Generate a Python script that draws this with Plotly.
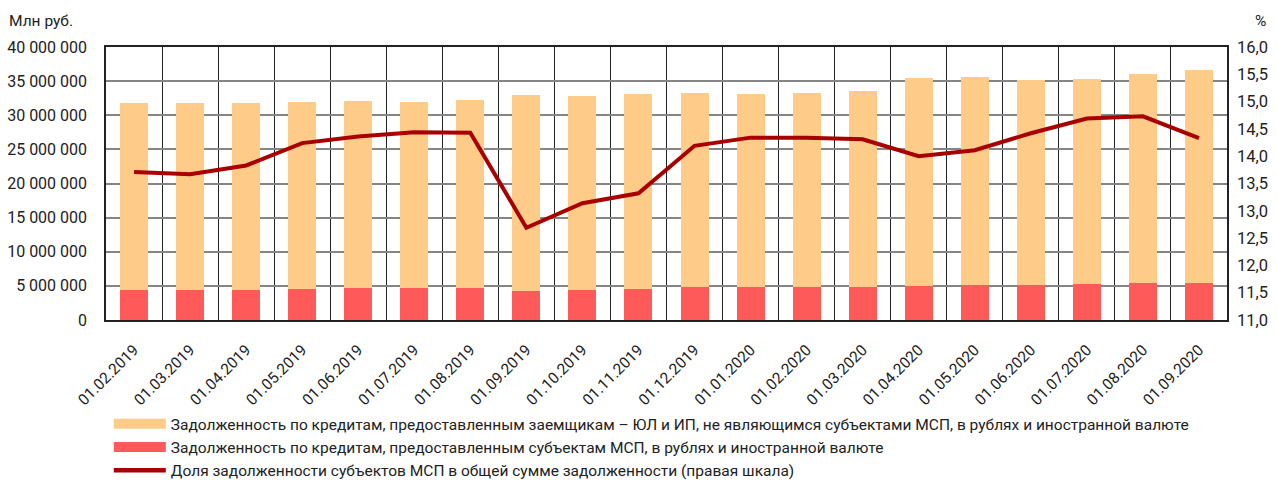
import plotly.graph_objects as go

dates = ["01.02.2019", "01.03.2019", "01.04.2019", "01.05.2019", "01.06.2019", "01.07.2019",
         "01.08.2019", "01.09.2019", "01.10.2019", "01.11.2019", "01.12.2019", "01.01.2020",
         "01.02.2020", "01.03.2020", "01.04.2020", "01.05.2020", "01.06.2020", "01.07.2020",
         "01.08.2020", "01.09.2020"]

# Loans to SMEs (red), mln rub
msp = [4400000, 4400000, 4400000, 4600000, 4700000, 4700000, 4700000, 4300000, 4450000, 4500000,
       4800000, 4900000, 4900000, 4900000, 5030000, 5100000, 5100000, 5300000, 5350000, 5350000]
# Total loans (top of stacked bars), mln rub
total = [31750000, 31800000, 31850000, 31950000, 32100000, 32000000, 32200000, 33000000, 32800000, 33100000,
         33250000, 33150000, 33200000, 33550000, 35450000, 35600000, 35200000, 35350000, 36050000, 36600000]
non_msp = [t - m for t, m in zip(total, msp)]
# Share of SME loans, %
share = [13.71, 13.67, 13.83, 14.24, 14.36, 14.44, 14.43, 12.69, 13.14, 13.32,
         14.19, 14.34, 14.34, 14.31, 14.00, 14.11, 14.42, 14.69, 14.73, 14.33]

names = ["Задолженность по кредитам, предоставленным заемщикам – ЮЛ и ИП, не являющимся субъектами МСП, в рублях и иностранной валюте",
         "Задолженность по кредитам, предоставленным субъектам МСП, в рублях и иностранной валюте",
         "Доля задолженности субъектов МСП в общей сумме задолженности (правая шкала)"]

c_orange = "#FECB88"
c_red = "#FF5A5A"
c_line = "#A80000"
font_family = "Roboto, Arial, sans-serif"
txt = "#222222"

fig = go.Figure()
fig.add_trace(go.Bar(x=dates, y=msp, marker=dict(color=c_red, line=dict(width=0)),
                     showlegend=False, name=names[1]))
fig.add_trace(go.Bar(x=dates, y=non_msp, marker=dict(color=c_orange, line=dict(width=0)),
                     showlegend=False, name=names[0]))
fig.add_trace(go.Scatter(x=dates, y=share, yaxis="y2", mode="lines",
                         line=dict(color=c_line, width=4), showlegend=False, name=names[2]))
# legend-only entries
fig.add_trace(go.Scatter(x=[None], y=[None], mode="lines", line=dict(color=c_orange, width=10), name=names[0]))
fig.add_trace(go.Scatter(x=[None], y=[None], mode="lines", line=dict(color=c_red, width=10), name=names[1]))
fig.add_trace(go.Scatter(x=[None], y=[None], mode="lines", line=dict(color=c_line, width=4.5), name=names[2]))

fig.update_layout(
    width=1277, height=482,
    margin=dict(l=106, r=50, t=47, b=162, autoexpand=False),
    barmode="stack", bargap=0.5,
    plot_bgcolor="white", paper_bgcolor="white",
    separators=", ",
    font=dict(family=font_family, size=15, color=txt),
    xaxis=dict(type="category", tickangle=-45, tickson="boundaries", showgrid=True,
               gridcolor="#222222", gridwidth=1, showline=True, linecolor="#222222", linewidth=1.5,
               mirror=True, ticks="", tickfont=dict(size=15.5), ticklabelstandoff=13, automargin=False),
    yaxis=dict(range=[0, 40000000], dtick=5000000, tickformat=",d", showgrid=True,
               gridcolor="#858585", gridwidth=1.5, zeroline=False, showline=True,
               linecolor="#222222", linewidth=1.5, mirror=True, ticks="", ticklabelstandoff=14,
               tickfont=dict(size=16), automargin=False),
    yaxis2=dict(range=[11, 16], dtick=0.5, tickformat=".1f", overlaying="y", side="right",
                showgrid=False, zeroline=False, ticks="", ticklabelstandoff=9,
                tickfont=dict(size=16.5), automargin=False),
    legend=dict(orientation="v", x=0.0025, xanchor="left", yref="container", y=0.155, yanchor="top",
                font=dict(size=15.5), itemwidth=52, tracegroupgap=0, traceorder="normal",
                bgcolor="rgba(0,0,0,0)"),
    annotations=[
        dict(text="Млн руб.", xref="paper", yref="paper", x=-0.088, y=1.0, yshift=26,
             xanchor="left", yanchor="middle", showarrow=False, font=dict(size=15.5)),
        dict(text="%", xref="paper", yref="paper", x=1.0, xshift=26, y=1.0, yshift=26,
             xanchor="left", yanchor="middle", showarrow=False, font=dict(size=15.5)),
    ],
)

fig.write_html("out.html", config={"displayModeBar": False},
               post_script="document.body.style.margin='0';document.body.style.padding='0';")
